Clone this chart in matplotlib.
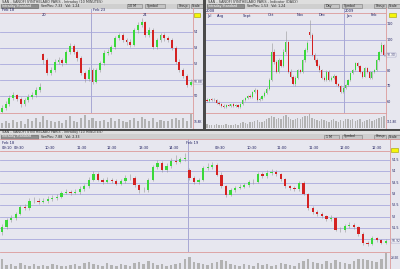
import matplotlib

matplotlib.use("Agg")
import matplotlib.pyplot as plt
import numpy as np
from matplotlib.lines import Line2D
from matplotlib.patches import Rectangle

W, H = 400, 269
BG = "#e7e7ef"
GRID = "#a9a9dc"
RED_LINE = "#dc9a9a"
DAY_LINE = "#a8a8d4"
GREEN = "#3ad83a"
RED = "#d42222"
WICK = "#979797"
VOL = "#b2b2b2"

# --- top left: intraday 10 min, Feb 18 -> Feb 24
tl_open = [49.00, 49.25, 49.50, 49.88, 50.06, 49.81, 49.50, 49.75, 49.94, 50.06, 50.38, 52.60, 52.25,
           51.44, 51.62, 52.12, 52.25, 52.06, 52.75, 53.12, 52.75, 52.38, 51.44, 51.06, 51.62, 50.88,
           51.62, 52.06, 52.69, 52.75, 53.06, 53.62, 53.81, 53.50, 53.38, 53.19, 54.12, 54.44, 54.62,
           53.81, 54.12, 53.06, 53.50, 53.81, 53.62, 53.50, 53.00, 52.12, 51.62, 51.25, 50.69]
tl_high = [49.45, 49.70, 50.05, 50.25, 50.15, 49.95, 49.90, 50.10, 50.25, 50.55, 50.80, 52.70, 52.35,
           51.80, 52.30, 52.45, 52.40, 52.90, 53.30, 53.25, 52.90, 52.50, 51.55, 51.80, 51.75, 51.75,
           52.20, 52.85, 52.95, 53.20, 53.75, 53.95, 53.95, 53.65, 53.55, 54.25, 54.60, 54.85, 54.70,
           54.30, 54.25, 53.65, 53.95, 53.95, 53.75, 53.60, 53.10, 52.30, 51.75, 51.40, 51.05]
tl_low = [48.90, 49.10, 49.40, 49.75, 49.70, 49.30, 49.40, 49.60, 49.80, 49.95, 50.25, 52.00, 51.30,
          51.30, 51.50, 52.00, 51.90, 52.00, 52.60, 52.60, 52.20, 51.30, 50.90, 50.95, 50.75, 50.80,
          51.50, 51.95, 52.55, 52.60, 52.95, 53.50, 53.35, 53.20, 53.05, 53.10, 53.95, 54.30, 53.70,
          53.70, 52.95, 52.95, 53.40, 53.45, 53.35, 52.90, 52.00, 51.50, 51.10, 50.55, 50.60]
tl_close = [49.25, 49.50, 49.88, 50.06, 49.81, 49.50, 49.75, 49.94, 50.06, 50.38, 50.56, 52.25, 51.44,
            51.62, 52.12, 52.25, 52.06, 52.75, 53.12, 52.75, 52.38, 51.44, 51.06, 51.62, 50.88, 51.62,
            52.06, 52.69, 52.75, 53.06, 53.62, 53.81, 53.50, 53.38, 53.19, 54.12, 54.44, 54.62, 53.81,
            54.12, 53.06, 53.50, 53.81, 53.62, 53.50, 53.00, 52.12, 51.62, 51.25, 50.69, 50.88]
tl_vol = [40, 55, 35, 60, 45, 50, 30, 65, 55, 70, 45, 90, 60, 50, 45, 55, 40, 60, 85, 50, 45, 70, 95,
          60, 75, 55, 50, 60, 45, 70, 50, 65, 55, 45, 60, 75, 50, 80, 65, 55, 70, 45, 60, 50, 55, 65,
          70, 60, 75, 55, 100]
tl_levels = [50, 51, 52, 53, 54]
tl_dates_top = ["Feb 18", "Feb 23"]
tl_dates_low = ["20", "24"]

# --- top right: daily, Jul 2008 -> Feb 2009
tr_open = [61.5, 60.6, 61.9, 61.3, 61.3, 59.4, 58.7, 57.4, 56.8, 58.1, 57.4, 58.7, 57.4, 58.1, 56.8,
           58.7, 61.3, 62.6, 63.9, 63.2, 66.5, 67.7, 61.3, 61.9, 63.9, 65.8, 68.4, 74.2, 92.3, 85.8,
           79.4, 87.1, 83.2, 92.3, 98.7, 79.4, 76.1, 71.6, 75.5, 80.6, 79.4, 87.1, 93.5, 105.0, 103.2,
           90.3, 87.1, 83.2, 80.6, 75.5, 74.2, 79.4, 74.2, 75.5, 76.8, 71.6, 70.3, 66.5, 69.0, 71.0,
           74.2, 78.7, 80.6, 85.2, 83.2, 79.4, 76.1, 81.9, 79.4, 75.5, 79.4, 80.6, 87.1, 92.3, 96.8]
tr_high = [62.5, 61.5, 62.8, 62.3, 62.0, 60.5, 59.5, 58.5, 58.9, 59.0, 58.6, 59.5, 58.6, 59.0, 59.6,
           62.2, 63.5, 64.8, 64.9, 67.4, 68.9, 68.5, 63.0, 64.8, 66.9, 69.5, 75.5, 98.0, 94.0, 87.0,
           88.5, 88.0, 94.0, 106.0, 99.5, 81.0, 77.5, 76.5, 81.5, 81.5, 88.0, 94.5, 99.5, 112.9, 104.5,
           91.5, 88.5, 84.5, 81.5, 76.5, 80.5, 80.5, 76.5, 77.8, 77.5, 72.5, 71.0, 69.8, 71.8, 75.0,
           79.5, 81.5, 86.0, 86.0, 84.0, 80.0, 82.8, 82.5, 80.0, 80.2, 81.5, 88.0, 93.0, 98.5, 97.5]
tr_low = [59.8, 59.9, 60.8, 60.5, 59.0, 58.2, 57.0, 56.3, 56.0, 57.2, 56.9, 56.8, 56.9, 56.2, 56.3,
          58.0, 60.5, 62.0, 62.8, 62.7, 65.8, 60.5, 60.5, 61.2, 63.2, 65.0, 67.5, 73.5, 84.5, 78.5,
          78.8, 82.5, 82.5, 91.0, 78.5, 75.5, 70.8, 70.5, 74.8, 78.5, 78.8, 86.0, 92.5, 101.5, 89.5,
          86.0, 82.5, 79.5, 74.8, 73.5, 73.5, 73.5, 73.8, 74.8, 71.0, 69.5, 65.5, 65.8, 68.5, 70.5,
          73.5, 78.0, 79.8, 82.5, 78.5, 75.5, 75.8, 78.8, 74.8, 74.8, 78.8, 80.0, 86.5, 91.5, 89.5]
tr_close = [60.6, 61.9, 61.3, 61.3, 59.4, 58.7, 57.4, 56.8, 58.1, 57.4, 58.7, 57.4, 58.1, 56.8, 58.7,
            61.3, 62.6, 63.9, 63.2, 66.5, 67.7, 61.3, 61.9, 63.9, 65.8, 68.4, 74.2, 92.3, 85.8, 79.4,
            87.1, 83.2, 92.3, 98.7, 79.4, 76.1, 71.6, 75.5, 80.6, 79.4, 87.1, 93.5, 98.1, 103.2, 90.3,
            87.1, 83.2, 80.6, 75.5, 74.2, 79.4, 74.2, 75.5, 76.8, 71.6, 70.3, 66.5, 69.0, 71.0, 74.2,
            78.7, 80.6, 85.2, 83.2, 79.4, 76.1, 81.9, 79.4, 75.5, 79.4, 80.6, 87.1, 92.3, 96.8, 90.3]
tr_vol = [30, 25, 20, 25, 30, 20, 25, 20, 30, 25, 20, 25, 30, 20, 35, 40, 35, 30, 40, 45, 50, 55, 40,
          45, 50, 60, 70, 85, 75, 60, 70, 65, 80, 90, 75, 60, 55, 65, 70, 60, 75, 80, 85, 95, 70, 60,
          55, 50, 65, 55, 50, 45, 55, 60, 50, 45, 55, 50, 60, 65, 55, 60, 50, 55, 60, 45, 50, 55, 60,
          50, 55, 65, 70, 75, 80]
tr_levels = [60, 70, 80, 90, 100, 110]
tr_months = ["Jul", "Aug", "Sept", "Oct", "Nov", "Dec", "Jan", "Feb"]
tr_years = ["2008", "2009"]

# --- bottom: intraday 10 min, Feb 18 -> Feb 19
b_open = [51.30, 51.54, 51.85, 51.93, 52.11, 52.42, 52.38, 52.69, 52.69, 52.64,
          52.69, 52.77, 52.82, 52.86, 53.04, 53.08, 53.04, 53.08, 53.22, 53.35,
          53.62, 53.88, 53.62, 53.53, 53.62, 53.57, 53.44, 53.57, 53.70, 53.70,
          53.39, 53.17, 53.17, 53.62, 54.19, 54.37, 54.06, 54.23, 54.46, 54.41,
          54.54, 54.05, 53.70, 53.53, 53.62, 54.15, 54.19, 54.28, 53.84, 53.35,
          52.95, 53.17, 53.26, 53.31, 53.39, 53.53, 53.53, 53.88, 53.79, 53.92,
          53.97, 53.88, 53.66, 53.35, 53.26, 53.22, 53.48, 53.00, 52.38, 52.20,
          52.11, 52.02, 51.89, 51.93, 51.40, 51.40, 51.58, 51.62, 51.54, 51.23,
          50.83, 50.78, 51.05, 50.96, 50.83]
b_high = [51.65, 51.95, 52.05, 52.20, 52.50, 52.55, 52.80, 52.85, 52.80, 52.80,
          52.90, 52.95, 52.98, 53.15, 53.20, 53.18, 53.20, 53.35, 53.45, 53.75,
          54.00, 53.95, 53.70, 53.75, 53.72, 53.65, 53.68, 53.85, 53.90, 53.78,
          53.45, 53.30, 53.70, 54.30, 54.50, 54.45, 54.35, 54.60, 54.70, 54.65,
          54.80, 54.15, 53.80, 53.70, 54.25, 54.35, 54.40, 54.35, 53.95, 53.40,
          53.25, 53.35, 53.42, 53.50, 53.62, 53.65, 53.98, 53.95, 54.05, 54.12,
          54.05, 53.92, 53.70, 53.40, 53.35, 53.55, 53.55, 53.05, 52.45, 52.30,
          52.20, 52.08, 52.05, 51.98, 51.52, 51.68, 51.75, 51.70, 51.60, 51.30,
          50.90, 51.12, 51.10, 51.02, 51.00]
b_low = [51.20, 51.45, 51.75, 51.85, 52.05, 52.28, 52.30, 52.58, 52.55, 52.58,
         52.62, 52.70, 52.75, 52.80, 52.98, 52.95, 52.98, 53.00, 53.15, 53.28,
         53.55, 53.55, 53.45, 53.48, 53.48, 53.38, 53.38, 53.50, 53.62, 53.30,
         53.05, 53.08, 53.10, 53.55, 54.10, 53.98, 53.98, 54.15, 54.32, 54.35,
         54.45, 53.60, 53.45, 53.45, 53.55, 54.05, 54.10, 53.78, 53.28, 52.88,
         52.90, 53.10, 53.20, 53.25, 53.32, 53.45, 53.48, 53.70, 53.72, 53.85,
         53.80, 53.58, 53.28, 53.18, 53.12, 53.15, 52.95, 52.30, 52.12, 52.02,
         51.95, 51.82, 51.82, 51.35, 51.32, 51.32, 51.50, 51.45, 51.15, 50.75,
         50.70, 50.72, 50.88, 50.78, 50.78]
b_close = [51.54, 51.85, 51.93, 52.11, 52.42, 52.38, 52.69, 52.69, 52.64, 52.69,
           52.77, 52.82, 52.86, 53.04, 53.08, 53.04, 53.08, 53.22, 53.35, 53.62,
           53.88, 53.62, 53.53, 53.62, 53.57, 53.44, 53.57, 53.70, 53.70, 53.39,
           53.17, 53.17, 53.62, 54.19, 54.37, 54.06, 54.23, 54.46, 54.41, 54.54,
           54.59, 53.70, 53.53, 53.62, 54.15, 54.19, 54.28, 53.84, 53.35, 52.95,
           53.17, 53.26, 53.31, 53.39, 53.53, 53.53, 53.88, 53.79, 53.92, 53.97,
           53.88, 53.66, 53.35, 53.26, 53.22, 53.48, 53.00, 52.38, 52.20, 52.11,
           52.02, 51.89, 51.93, 51.40, 51.40, 51.58, 51.62, 51.54, 51.23, 50.83,
           50.78, 51.05, 50.96, 50.83, 50.92]
b_vol = [60, 25, 30, 20, 35, 25, 20, 30, 15, 25, 20, 30, 25, 15, 20, 25, 30, 20, 35, 40,
         30, 25, 20, 35, 25, 20, 30, 25, 20, 35, 40, 30, 45, 35, 25, 30, 20, 25, 30, 35,
         55, 70, 40, 35, 30, 25, 35, 40, 50, 45, 30, 25, 20, 30, 25, 20, 35, 25, 30, 20,
         25, 35, 30, 25, 20, 35, 45, 55, 40, 35, 30, 45, 35, 50, 40, 35, 30, 45, 55, 60,
         50, 45, 40, 55, 90]
b_levels = [51.0, 51.5, 52.0, 52.5, 53.0, 53.5, 54.0, 54.5]
b_times_left = ["09:10", "09:30", "10:30", "11:30", "12:30", "13:30", "14:30"]
b_times_right = ["09:30", "10:30", "11:00", "11:30", "12:00", "12:30"]

fig = plt.figure(figsize=(W / 100, H / 100), dpi=100, facecolor=BG)


def rect(x, y, w, h):
    return [x / W, 1 - (y + h) / H, w / W, h / H]


def box(x, y, w, h, fc, ec="none", lw=0.4):
    fig.patches.append(Rectangle((x / W, 1 - (y + h) / H), w / W, h / H, transform=fig.transFigure,
                                 facecolor=fc, edgecolor=ec, lw=lw, zorder=5))


def hline(y, x0, x1, color, lw=0.6):
    fig.lines.append(Line2D([x0 / W, x1 / W], [1 - y / H] * 2, transform=fig.transFigure,
                            color=color, lw=lw, zorder=6))


def vline(x, y0, y1, color, lw=0.6):
    fig.lines.append(Line2D([x / W] * 2, [1 - y0 / H, 1 - y1 / H], transform=fig.transFigure,
                            color=color, lw=lw, zorder=6))


def txt(x, y, s, size=2.6, color="#202060", **kw):
    fig.text(x / W, 1 - y / H, s, fontsize=size, color=color, va="center", zorder=8, **kw)


def bare(ax):
    ax.set_facecolor(BG)
    for s in ax.spines.values():
        s.set_visible(False)
    ax.set_xticks([])
    ax.set_yticks([])


def candles(ax, o, hi, lo, c):
    o, hi, lo, c = map(np.asarray, (o, hi, lo, c))
    x = np.arange(len(c))
    ax.vlines(x, lo, hi, color=WICK, lw=0.4, zorder=3)
    body = np.maximum(np.abs(c - o), 0.004 * (hi.max() - lo.min()))
    cols = np.where(c >= o, GREEN, RED)
    ax.bar(x, body, bottom=np.minimum(o, c), width=0.5, color=cols, lw=0, zorder=4)


def panel(x0, y_top, y_vol, y_end, x_axis, o, hi, lo, c, vol, xlim, ylim, levels, labels, last_lbl):
    ax = fig.add_axes(rect(x0, y_top, x_axis - x0, y_vol - y_top))
    bare(ax)
    for p in levels:
        ax.axhline(p, color=GRID, lw=0.6, zorder=1)
    candles(ax, o, hi, lo, c)
    ax.set_xlim(*xlim)
    ax.set_ylim(*ylim)
    near = 0.06 * (ylim[1] - ylim[0])
    for p, s in zip(levels, labels):
        if abs(p - c[-1]) < near:
            continue  # the last-price box sits over this level
        ax.text(1.004, p, s, transform=ax.get_yaxis_transform(), fontsize=2.4, color="#202060",
                va="center", clip_on=False)
    ax.text(1.004, c[-1], last_lbl, transform=ax.get_yaxis_transform(), fontsize=2.2, va="center",
            color="#202060", clip_on=False,
            bbox=dict(boxstyle="square,pad=0.12", fc="white", ec="#8080b0", lw=0.3))
    axv = fig.add_axes(rect(x0, y_vol, x_axis - x0, y_end - y_vol))
    bare(axv)
    axv.bar(np.arange(len(vol)), vol, width=0.55, color=VOL, lw=0)
    axv.set_xlim(*xlim)
    axv.set_ylim(0, max(vol) * 1.08)
    hline(y_vol, x0, x_axis, RED_LINE)
    vline(x_axis, y_top, y_end, RED_LINE)
    return ax


def chrome(x0, x1, y0, title, mid, tf):
    # title bar + toolbar row of one chart window
    box(x0, y0, x1 - x0, 3.5, "#dedede")
    txt(x0 + 2, y0 + 1.8, title, size=2.4, color="#303030")
    box(x0, y0 + 3.5, x1 - x0, 5, "#cfcfcf")
    box(x0 + 0.5, y0 + 4, 37, 4, "#8e8e8e", ec="#606060")
    txt(x0 + 2, y0 + 6, "Intraday Standard", size=2.3, color="white")
    txt(x0 + 41, y0 + 6, mid, size=2.3, color="#202020")
    w = x1 - x0
    for bx, bw, s in [(w - 76, 15, tf), (w - 58, 20, "Symbol"), (w - 26, 12, "Group"), (w - 12.5, 12, "Scale")]:
        box(x0 + bx, y0 + 4, bw, 4, "#c4c4c4", ec="#7a7a7a")
        txt(x0 + bx + 1.5, y0 + 6, s, size=2.3, color="#202020")


# --- top left
tl_ylim = (48.94, 55.5)
ax_tl = panel(0, 8, 113, 128.5, 193, tl_open, tl_high, tl_low, tl_close, tl_vol, (-0.5, 50.6), tl_ylim,
              tl_levels, [str(v) for v in tl_levels], f"{tl_close[-1]:.2f}")
ax_tl.axvline(23.7, color=DAY_LINE, lw=0.7, zorder=2)
ax_tl.axhline(55.19, color=RED_LINE, lw=0.6, zorder=2)
for xp, s in zip([2, 93], tl_dates_top):
    txt(xp, 10, s, size=2.6)
for xp, s in zip([42, 143], tl_dates_low):
    txt(xp, 15.5, s, size=2.6)
box(194, 13, 6, 3.5, "#f5f50a", ec="#a0a000")
txt(194, 122, "16.8K", size=2.1)

# --- top right
tr_ylim = (52.9, 120.6)
ax_tr = panel(206, 8, 113, 128.5, 386, tr_open, tr_high, tr_low, tr_close, tr_vol, (-0.42, 74.9), tr_ylim,
              tr_levels, [str(v) for v in tr_levels], f"{tr_close[-1]:.2f}")
ax_tr.axvline(57.3, color=DAY_LINE, lw=0.7, zorder=2)
ax_tr.axhline(117.4, color=RED_LINE, lw=0.6, zorder=2)
for xp, s in zip([207, 217, 243, 268, 297, 319, 346, 371], tr_months):
    txt(xp, 15.5, s, size=2.6)
for xp, s in zip([206, 345], tr_years):
    txt(xp, 10.5, s, size=2.6)
box(389, 13, 7, 3.5, "#f5f50a", ec="#a0a000")
txt(387, 122, "111.8K", size=2.1)

# --- bottom
b_ylim = (50.43, 55.43)
ax_b = panel(0, 139, 252, 269, 390, b_open, b_high, b_low, b_close, b_vol, (-0.44, 84.9), b_ylim,
             b_levels, [f"{v:g}" for v in b_levels], f"{b_close[-1]:.2f}")
ax_b.axvline(40.6, color=DAY_LINE, lw=0.7, zorder=2)
ax_b.axhline(54.9, color=RED_LINE, lw=0.6, zorder=2)
txt(2, 143.5, "Feb 18", size=2.6)
txt(186, 143.5, "Feb 19", size=2.6)
for xp, s in zip([2, 14, 45, 77, 107, 139, 169], b_times_left):
    txt(xp, 148, s, size=2.6)
for xp, s in zip([215, 247, 277, 309, 340, 372], b_times_right):
    txt(xp, 148, s, size=2.6)
box(391, 148, 7, 3.5, "#f5f50a", ec="#a0a000")
txt(391, 258, "23.5K", size=2.1)

# window chrome and separators
chrome(0, 203, 0, "SAN - SANOFI SYNTHELABO PARIS - Intraday (10 MINUTES)", "Ver/Pos: 7.33   Vol: 1.24", "10 M")
chrome(206, 400, 0, "SAN - SANOFI SYNTHELABO PARIS - Indicator (DAILY)", "Ver/Pos: 1.53   Vol: 1.24", "Day")
chrome(0, 400, 130.5, "SAN - SANOFI SYNTHELABO PARIS - Intraday (10 MINUTES)", "Ver/Pos: 7.88   Vol: 2.33", "1 M")
box(203, 0, 3, 130, "#4a4a4a")
box(0, 128.5, 400, 2, "#4a4a4a")
hline(139, 0, 400, RED_LINE)

fig.savefig("out.png", dpi=100, facecolor=fig.get_facecolor())
